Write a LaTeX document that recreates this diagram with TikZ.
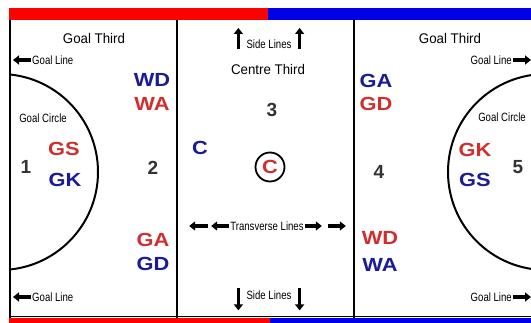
\documentclass[tikz,border=0pt]{standalone}
\usepackage{fontspec}
\setmainfont{Liberation Sans}
\newfontfamily\narrowfont{Liberation Sans}[FakeStretch=0.8]
\newfontfamily\titlefont{Liberation Sans}[FakeStretch=0.95]
\newfontfamily\posfont{Liberation Sans}[FakeStretch=1.15]
\usetikzlibrary{arrows.meta}
\definecolor{barred}{HTML}{FF0000}
\definecolor{barblue}{HTML}{0000E6}
\definecolor{txtred}{HTML}{D12E2E}
\definecolor{txtblue}{HTML}{1A1A9C}
\definecolor{numgray}{HTML}{333333}
\tikzset{
  ttltext/.style={inner sep=0pt, font=\titlefont\fontsize{14}{16}\selectfont},
  lbltext/.style={inner sep=0pt, font=\narrowfont\fontsize{12}{14}\selectfont},
  plabel/.style={inner sep=0pt, font=\posfont\bfseries\fontsize{19}{21}\selectfont},
  redpos/.style={plabel, text=txtred},
  bluepos/.style={plabel, text=txtblue},
  numtext/.style={inner sep=0pt, font=\bfseries\fontsize{19}{21}\selectfont, text=numgray},
  fieldline/.style={line width=2pt, black},
  thickarrow/.style={draw=black, line width=3.2pt, -{Triangle[length=6pt,width=9pt]}},
}
\begin{document}
\begin{tikzpicture}[x=1pt,y=-1pt]
\useasboundingbox (0,0) rectangle (531,323);
\fill[white] (0,0) rectangle (531,323);
% goal circles
\begin{scope}
\clip (10,20) rectangle (531,317);
\draw[line width=2pt] (0,172) circle[radius=98];
\draw[line width=2pt] (546,172) circle[radius=98];
\end{scope}
% field lines
\draw[fieldline] (10,20) -- (10,318);
\draw[fieldline] (177,20) -- (177,318);
\draw[fieldline] (354,20) -- (354,318);
\draw[line width=1pt] (9,317) -- (531,317);
% bars
\fill[barred] (9,8) rectangle (268,20);
\fill[barblue] (268,8) rectangle (531,20);
\fill[barred] (9,318) rectangle (270,323);
\fill[barblue] (270,318) rectangle (531,323);
% titles
\node[ttltext] (gtl) at (94,38) {Goal Third};
\node[ttltext] (gtr) at (450,38) {Goal Third};
\node[ttltext] (ct) at (268,69) {Centre Third};
% goal lines
\node[lbltext, anchor=west] (gl1) at (32,60) {Goal Line};
\coordinate (gl1a) at ([xshift=-1pt]gl1.west);
\coordinate (gl1b) at ([xshift=-19pt]gl1.west);
\draw[thickarrow] (gl1a) -- (gl1b);
\node[lbltext, anchor=west] (gl2) at (32,297) {Goal Line};
\coordinate (gl2a) at ([xshift=-1pt]gl2.west);
\coordinate (gl2b) at ([xshift=-19pt]gl2.west);
\draw[thickarrow] (gl2a) -- (gl2b);
\node[lbltext, anchor=east] (gl3) at (512,60) {Goal Line};
\coordinate (gl3a) at ([xshift=1pt]gl3.east);
\coordinate (gl3b) at ([xshift=19pt]gl3.east);
\draw[thickarrow] (gl3a) -- (gl3b);
\node[lbltext, anchor=east] (gl4) at (512,297) {Goal Line};
\coordinate (gl4a) at ([xshift=1pt]gl4.east);
\coordinate (gl4b) at ([xshift=19pt]gl4.east);
\draw[thickarrow] (gl4a) -- (gl4b);
% goal circle labels
\node[lbltext] (gc1) at (43,118) {Goal Circle};
\node[lbltext] (gc2) at (502,117) {Goal Circle};
% side lines
\node[lbltext, anchor=base] (sl1) at (269,49) {Side Lines};
\coordinate (sl1a) at ([xshift=-8pt]sl1.base west);
\coordinate (sl1b) at ([xshift=-8pt,yshift=21pt]sl1.base west);
\coordinate (sl1c) at ([xshift=8pt]sl1.base east);
\coordinate (sl1d) at ([xshift=8pt,yshift=21pt]sl1.base east);
\draw[thickarrow] (sl1a) -- (sl1b);
\draw[thickarrow] (sl1c) -- (sl1d);
\node[lbltext] (sl2) at (269,295) {Side Lines};
\coordinate (sl2a) at ([xshift=-8pt,yshift=2pt]sl2.north west);
\coordinate (sl2b) at ([xshift=-8pt,yshift=-20pt]sl2.north west);
\coordinate (sl2c) at ([xshift=8pt,yshift=2pt]sl2.north east);
\coordinate (sl2d) at ([xshift=8pt,yshift=-20pt]sl2.north east);
\draw[thickarrow] (sl2a) -- (sl2b);
\draw[thickarrow] (sl2c) -- (sl2d);
% transverse lines
\node[lbltext] (tl) at (267,226) {Transverse Lines};
\coordinate (tla) at ([xshift=-1pt]tl.west);
\coordinate (tlb) at ([xshift=-19pt]tl.west);
\coordinate (tlc) at ([xshift=-22pt]tl.west);
\coordinate (tld) at ([xshift=-41pt]tl.west);
\coordinate (tle) at ([xshift=1pt]tl.east);
\coordinate (tlf) at ([xshift=18pt]tl.east);
\coordinate (tlg) at ([xshift=24pt]tl.east);
\coordinate (tlh) at ([xshift=42pt]tl.east);
\draw[thickarrow] (tla) -- (tlb);
\draw[thickarrow] (tlc) -- (tld);
\draw[thickarrow] (tle) -- (tlf);
\draw[thickarrow] (tlg) -- (tlh);
% numbers
\node[numtext] (n1) at (26,167) {1};
\node[numtext] (n2) at (153,168) {2};
\node[numtext] (n3) at (272,110) {3};
\node[numtext] (n4) at (379,172) {4};
\node[numtext] (n5) at (518,167) {5};
% positions left third
\node[bluepos] (wdl) at (152,80) {WD};
\node[redpos] (wal) at (152,104) {WA};
\node[redpos] (gsl) at (64,149) {GS};
\node[bluepos] (gkl) at (65,180) {GK};
\node[redpos] (gal) at (153,240) {GA};
\node[bluepos] (gdl) at (153,264) {GD};
% centre
\node[bluepos] (cb) at (200,148) {C};
\node[redpos] (cr) at (270,167) {C};
\draw[line width=1.8pt] (cr) circle[radius=14.5];
% right third
\node[bluepos] (gar) at (376,81) {GA};
\node[redpos] (gdr) at (376,104) {GD};
\node[redpos] (gkr) at (475,150) {GK};
\node[bluepos] (gsr) at (475,180) {GS};
\node[redpos] (wdr) at (380,238) {WD};
\node[bluepos] (war) at (380,265) {WA};
\end{tikzpicture}
\end{document}
